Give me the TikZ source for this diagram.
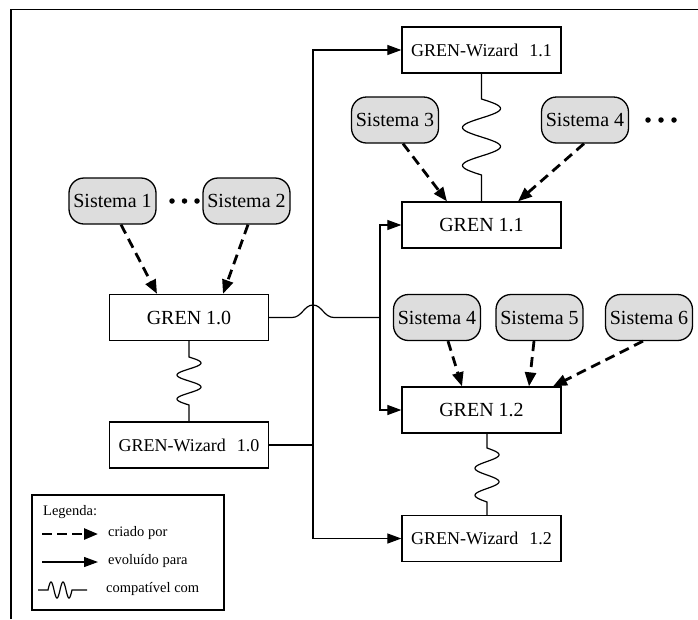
\documentclass[tikz,border=0pt]{standalone}
\usepackage{fontspec}
\setmainfont{Liberation Serif}
\usetikzlibrary{arrows.meta}
\definecolor{sisgray}{RGB}{221,221,221}
\newcommand{\wizlabel}[1]{{\fontsize{18}{21}\selectfont GREN-Wizard\hspace{0.6em}#1}}
\begin{document}
\begin{tikzpicture}[x=1pt,y=-1pt,
  box/.style={draw, line width=1.3pt, minimum width=159pt, minimum height=46pt,
    inner sep=0pt, font=\fontsize{20}{23}\selectfont},
  sis/.style={draw, line width=1.3pt, rounded corners=15pt, fill=sisgray,
    minimum width=87pt, minimum height=46pt, inner sep=0pt,
    font=\fontsize{20}{23}\selectfont},
  created/.style={line width=2.8pt, dash pattern=on 10pt off 6pt,
    -{Triangle[length=14pt,width=11pt]}},
  evolved/.style={line width=1.2pt, -{Triangle[length=14pt,width=10pt]}},
  link/.style={line width=1.2pt},
  dot/.style={circle, fill, inner sep=0pt, minimum size=5.5pt},
  legtext/.style={anchor=west, inner sep=0pt, font=\fontsize{14.5}{17}\selectfont},
]
\useasboundingbox (0,0) rectangle (698,619);

% outer frame
\draw[line width=1.3pt] (11,619) -- (11,9.5) -- (698,9.5);

% versions
\node[box] (w11) at (481.5,50)    {\wizlabel{1.1}};
\node[box] (g11) at (481.5,225)   {GREN 1.1};
\node[box] (g10) at (189,317.5)   {GREN 1.0};
\node[box] (w10) at (189,445)     {\wizlabel{1.0}};
\node[box] (g12) at (481.5,410)   {GREN 1.2};
\node[box] (w12) at (481.5,538.5) {\wizlabel{1.2}};

% systems
\node[sis] (s1)  at (112.5,201) {Sistema 1};
\node[sis] (s2)  at (246.5,201) {Sistema 2};
\node[sis] (s3)  at (395,120)   {Sistema 3};
\node[sis] (s4a) at (585,120)   {Sistema 4};
\node[sis] (s4b) at (437,317.5) {Sistema 4};
\node[sis] (s5)  at (539.5,317.5) {Sistema 5};
\node[sis] (s6)  at (649,317.5) {Sistema 6};

% ellipsis dots
\node[dot] (da1) at (172,201) {};
\node[dot] (da2) at (184.5,201) {};
\node[dot] (da3) at (197,201) {};
\node[dot] (db1) at (648,120) {};
\node[dot] (db2) at (661,120) {};
\node[dot] (db3) at (674,120) {};

% created by
\draw[created] ([xshift=8.5pt]s1.south) -- ([xshift=-32pt]g10.north);
\draw[created] ([xshift=1.5pt]s2.south) -- ([xshift=34pt]g10.north);
\draw[created] ([xshift=8pt]s3.south) -- ([xshift=-34.5pt]g11.north);
\draw[created] ([xshift=-1pt]s4a.south) -- ([xshift=36.5pt]g11.north);
\draw[created] ([xshift=11pt]s4b.south) -- ([xshift=-19.5pt]g12.north);
\draw[created] ([xshift=-5.5pt]s5.south) -- ([xshift=47.5pt]g12.north);
\draw[created] ([xshift=-6pt]s6.south) -- ([xshift=71.5pt]g12.north);

% evolved into: wizard line
\draw[link] (w10.east) -- (313,445) coordinate (trunk);
\draw[evolved] (trunk) |- (w11.west);
\draw[evolved] (trunk) |- (w12.west);

% evolved into: core line, hopping over the wizard line
\draw[link] (g10.east) -- (292,317.5)
  .. controls (302,317.5) and (304,305) .. (313,305)
  .. controls (322,305) and (324,317.5) .. (334,317.5)
  -- (380,317.5) coordinate (split);
\draw[evolved] (split) |- (g11.west);
\draw[evolved] (split) |- (g12.west);

% compatible with
\draw[link] (w11.south) -- (481.5,99)
  -- plot[domain=0:1, samples=81, smooth] ({481.5+19*sin(720*\x)},{99+76*\x})
  -- (g11.north);
\draw[link] (g10.south) -- (189,357)
  -- plot[domain=0:1, samples=81, smooth] ({189+12*sin(720*\x)},{357+48*\x})
  -- (w10.north);
\draw[link] ([xshift=5.5pt]g12.south) -- (487,448)
  -- plot[domain=0:1, samples=81, smooth] ({487+12*sin(720*\x)},{448+54*\x})
  -- ([xshift=5.5pt]w12.north);

% legend
\node[draw, line width=1.2pt, minimum width=192pt, minimum height=115pt,
  inner sep=0pt] (legend) at (128,552.5) {};
\node[legtext] (lgtitle) at (43,512) {Legenda:};
\draw[created, line width=2.6pt, dash pattern=on 10pt off 5pt] (42,534) -- (98,534);
\node[legtext] (lgcreated) at (108,533) {criado por};
\draw[evolved] (42,562) -- (98,562);
\node[legtext] (lgevolved) at (108,561) {evoluído para};
\draw[link] (38,590) -- (48,590)
  -- plot[domain=0:1, samples=61, smooth] ({48+24*\x},{590-8*sin(720*\x)})
  -- (87,590);
\node[legtext] (lgcompat) at (106,589) {compatível com};
\end{tikzpicture}
\end{document}
